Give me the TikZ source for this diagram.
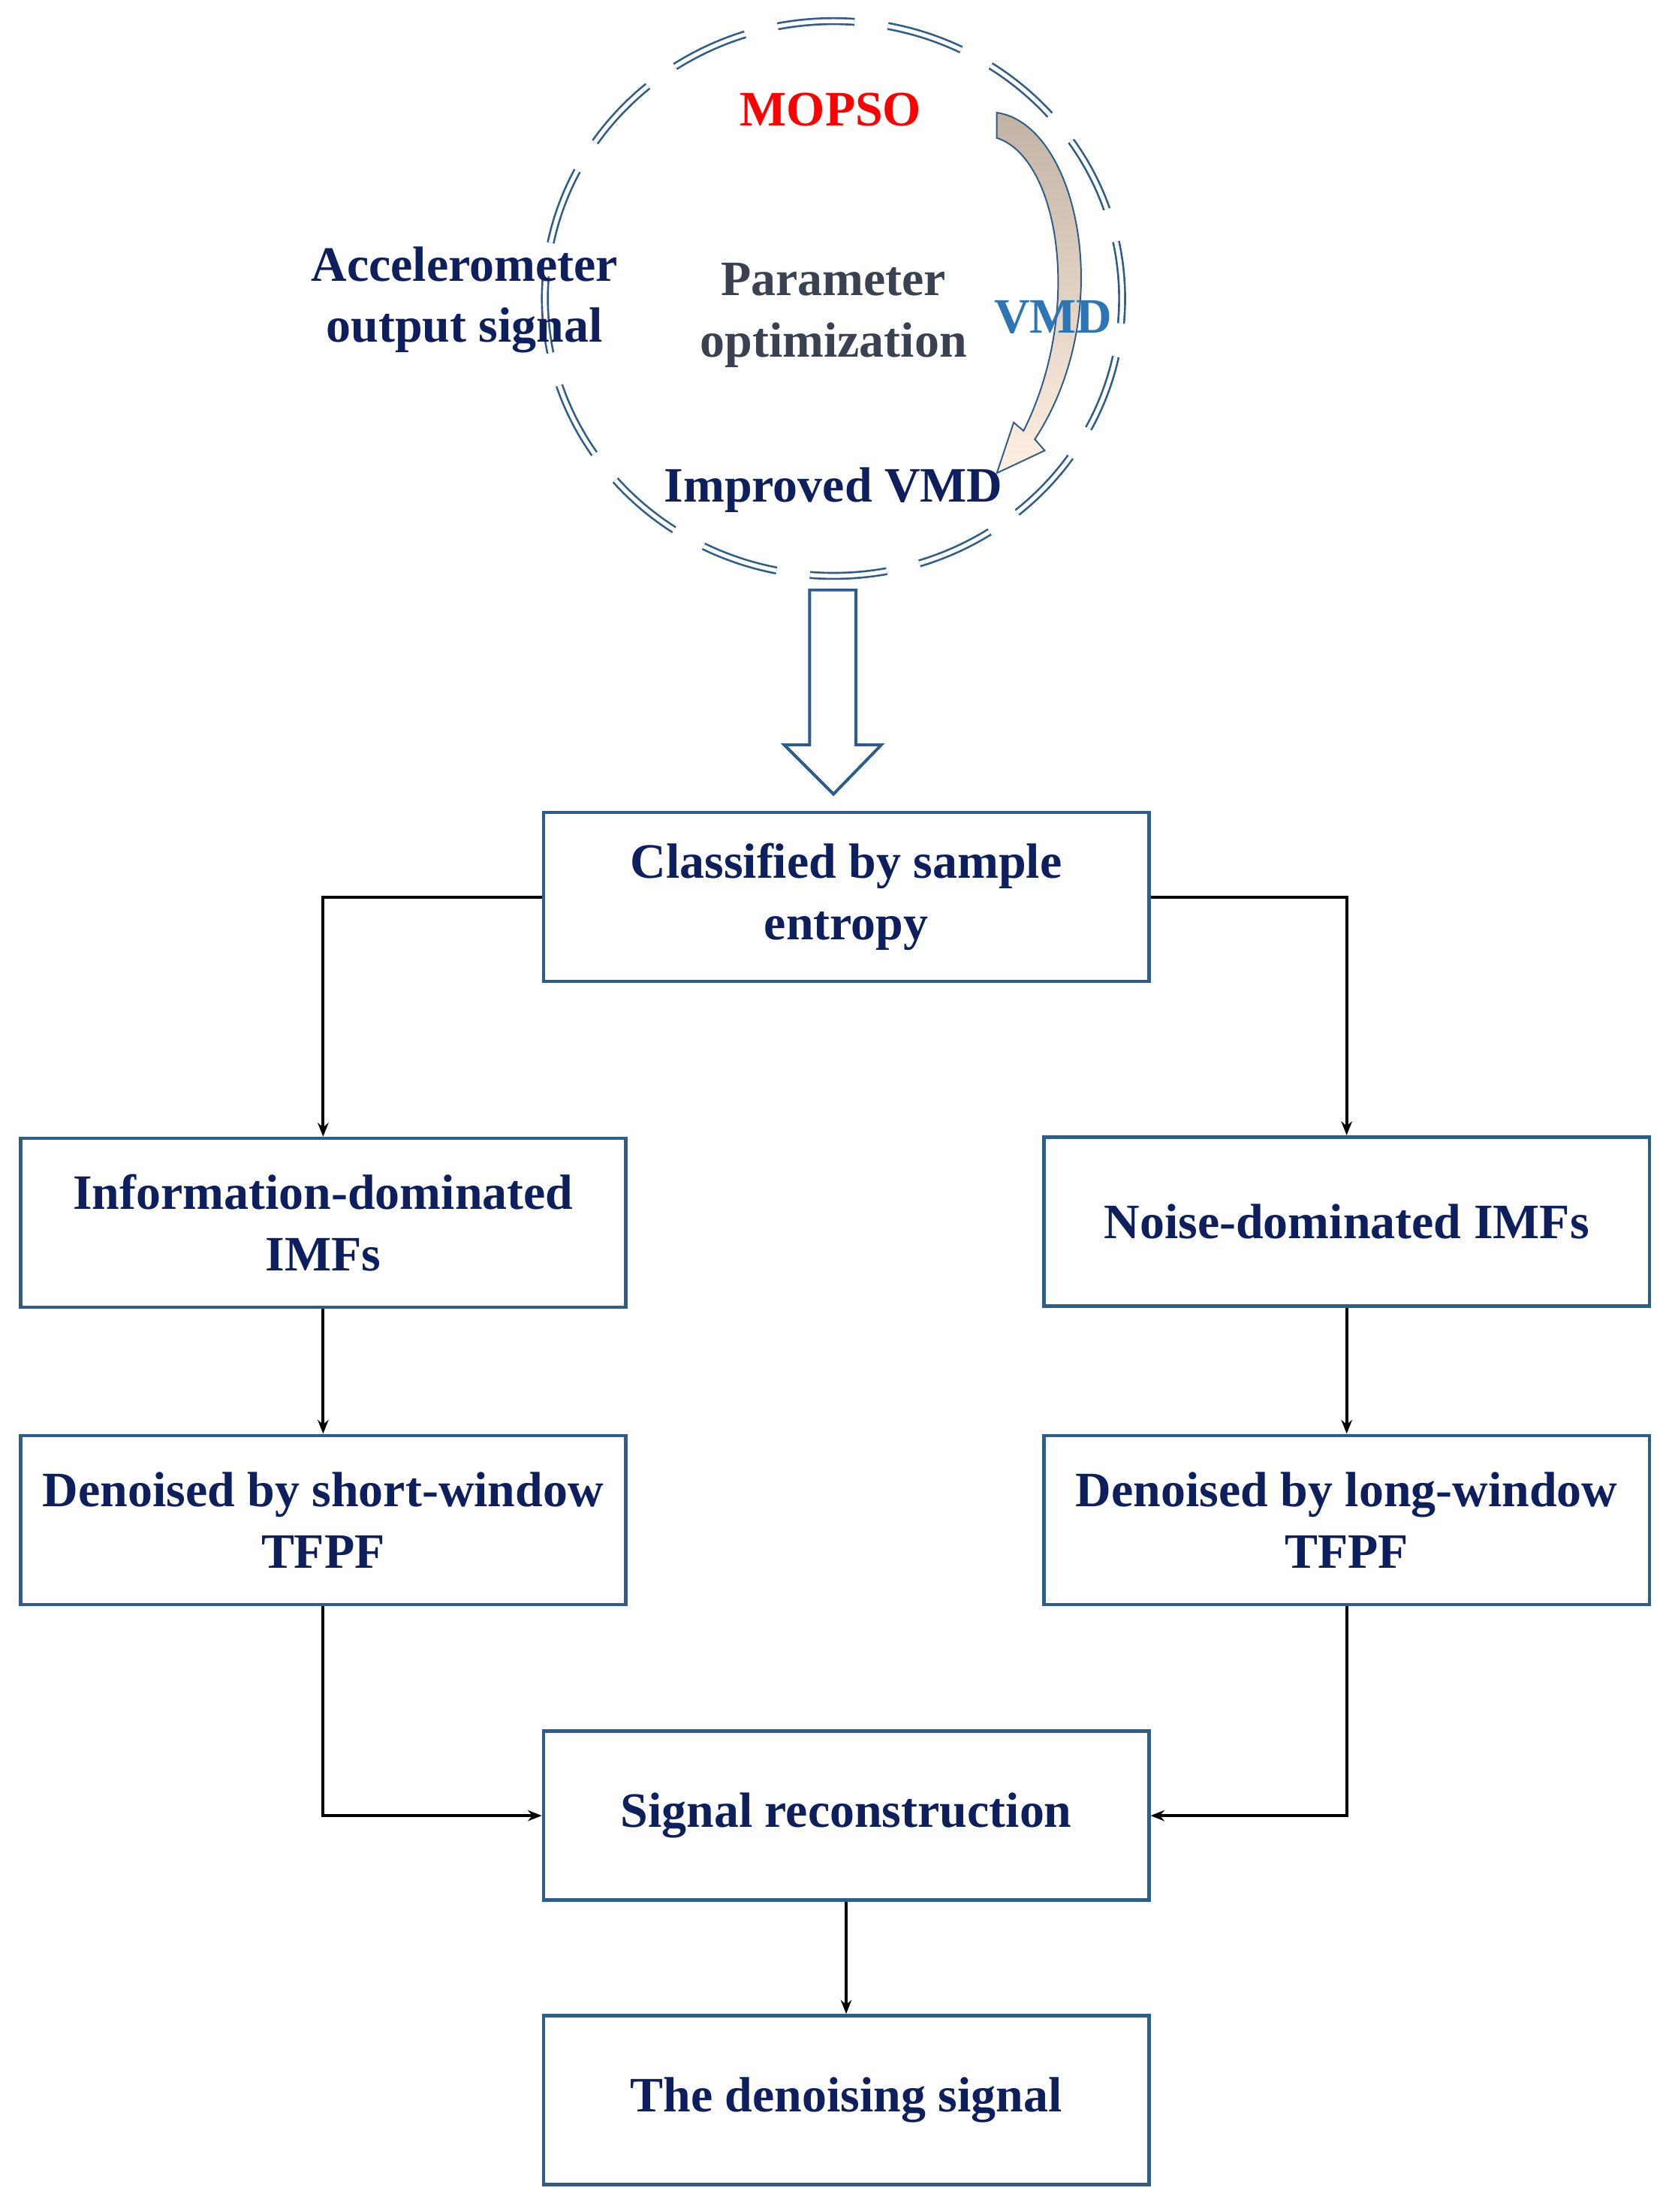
\documentclass[tikz,border=0pt]{standalone}
\usepackage{fontspec}
\setmainfont{Liberation Serif}
\usetikzlibrary{arrows.meta}
\definecolor{bx}{HTML}{2F5D8A}
\definecolor{navy}{HTML}{0D1F5C}
\definecolor{gry}{HTML}{3A4150}
\definecolor{vmd}{HTML}{2E75B6}
\begin{document}
\begin{tikzpicture}[x=0.05cm,y=-0.05cm,
  txt/.style={font=\fontsize{50}{62}\selectfont\bfseries, align=center},
  box/.style={draw=bx, line width=3.5pt, minimum width=21.5cm, minimum height=6cm, txt, text=navy, inner sep=0pt},
  con/.style={draw=black, line width=3pt, -{Stealth[length=14pt,width=11pt]}}]
\useasboundingbox (0,0) rectangle (1185,1571);
% circle
\draw[bx, line width=2pt, double=white, double distance=4pt, dash pattern=on 78pt off 34pt, dash phase=20pt] (592,212) ellipse [x radius=205, y radius=-197];
% curved arrow
\shade[top color=brown!40!gray!60, bottom color=orange!12, draw=bx, line width=1.5pt]
 (708,80) .. controls (765,88) and (795,220) .. (735,312) -- (742,320) -- (708,336) -- (720,300) -- (727,306) .. controls (770,220) and (752,112) .. (708,98) -- cycle;
\node[txt, text=red] (mopso) at (590,78) {MOPSO};
\node[txt, text=navy] (acc) at (330,213) {Accelerometer\\output signal};
\node[txt, text=gry] (par) at (592,224) {Parameter\\optimization};
\node[txt, text=vmd] (vmd) at (748,225) {VMD};
\node[txt, text=navy] (imp) at (592,348) {Improved VMD};
% block arrow
\draw[bx, line width=3pt, fill=white] (575,419) -- (608,419) -- (608,529) -- (626,529) -- (592,564) -- (557,529) -- (575,529) -- cycle;
% boxes
\node[box] (b1) at (601,637) {Classified by sample\\entropy};
\node[box] (b2) at (229.5,868.5) {Information-dominated\\IMFs};
\node[box] (b3) at (956.5,867.5) {Noise-dominated IMFs};
\node[box] (b4) at (229.5,1079.5) {Denoised by short-window\\TFPF};
\node[box] (b5) at (956.5,1079.5) {Denoised by long-window\\TFPF};
\node[box] (b6) at (601,1289.5) {Signal reconstruction};
\node[box] (b7) at (601,1491.5) {The denoising signal};
% connectors
\draw[con] (b1.west) -| (b2.north);
\draw[con] (b1.east) -| (b3.north);
\draw[con] (b2) -- (b4);
\draw[con] (b3) -- (b5);
\draw[con] (b4.south) |- (b6.west);
\draw[con] (b5.south) |- (b6.east);
\draw[con] (b6) -- (b7);
\end{tikzpicture}
\end{document}
